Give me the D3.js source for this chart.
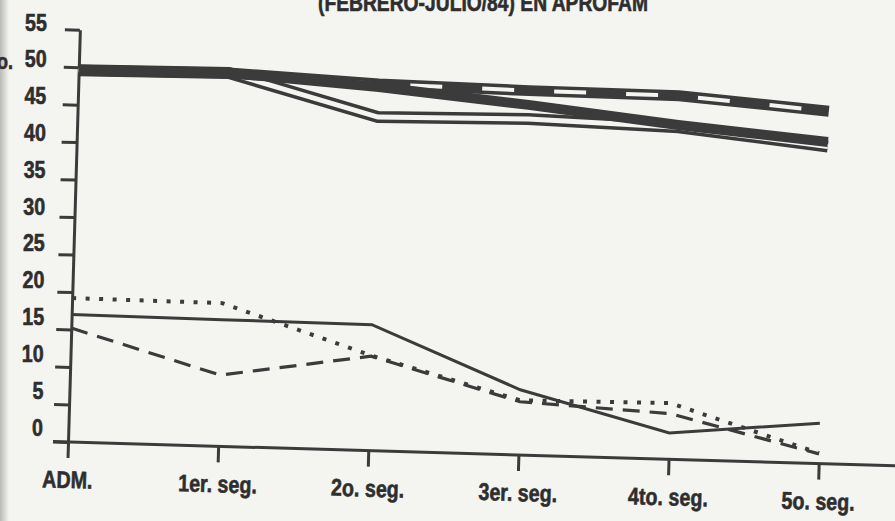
<!DOCTYPE html>
<html lang="es">
<head>
<meta charset="UTF-8">
<title>Seguimiento APROFAM</title>
<style>
  html, body { margin: 0; padding: 0; background: #f4f4f1; }
  svg { display: block; }
  text {
    font-family: "Liberation Sans", Arial, sans-serif;
    font-weight: bold;
    fill: #2e2e2e;
    stroke: #2e2e2e;
    stroke-width: 0.6px;
  }
</style>
</head>
<body>
<div id="chart"></div>
<script src="https://d3js.org/d3.v7.min.js"></script>
<script>
// etiquetas y valores
var categories = ["ADM.", "1er. seg.", "2o. seg.", "3er. seg.", "4to. seg.", "5o. seg."];
var yTicks = [0, 5, 10, 15, 20, 25, 30, 35, 40, 45, 50, 55];

// grupo superior
var serieCinta  = [49.6, 49.8, 48.9, 48.6, 48.5, 47.0];   // gruesa con guiones blancos
var serieGruesa = [49.6, 49.8, 48.5, 46.7, 44.6, 42.9];   // gruesa continua
var serieDoble  = [49.6, 49.8, 44.5, 44.8, 44.3, 42.3];   // linea doble

// grupo inferior
var seriePuntos  = [19.2, 19.1, 12.7, 7.3, 7.5, 1.4];
var serieSolida  = [17.0, 16.9, 16.8, 8.7, 3.5, 5.4];
var serieGuiones = [15.2, 9.5, 12.6, 7.1, 6.1, 1.3];

var width = 895, height = 521;
var ink = "#3b3b3b";
var narrow = 0.82;   // letra condensada

var svg = d3.select("#chart").append("svg")
  .attr("width", width)
  .attr("height", height);

// borde de la pagina escaneada
var grad = svg.append("defs").append("linearGradient").attr("id", "edge");
grad.append("stop").attr("offset", "0%").attr("stop-color", "#b9b9b6");
grad.append("stop").attr("offset", "100%").attr("stop-color", "#f4f4f1");
svg.append("rect").attr("width", 9).attr("height", height).attr("fill", "url(#edge)");

// titulo cortado arriba
svg.append("text")
  .attr("x", 318).attr("y", 11)
  .attr("textLength", 330).attr("lengthAdjust", "spacingAndGlyphs")
  .style("font-size", "24px")
  .text("(FEBRERO-JULIO/84) EN APROFAM");

svg.append("text")
  .attr("transform", "translate(13,69) scale(" + narrow + ",1)")
  .attr("text-anchor", "end")
  .style("font-size", "22px")
  .text("No.");

var x = d3.scalePoint().domain(categories).range([0, 751]);
var y = d3.scaleLinear().domain([0, 55]).range([0, -412.5]);

// la hoja esta un poco girada
var g = svg.append("g").attr("transform", "translate(68,442) rotate(1.65)");

// eje y
g.append("g")
  .call(d3.axisLeft(y).tickValues(yTicks).tickSize(15).tickSizeOuter(0).tickFormat(""))
  .call(s => s.selectAll("path, line").attr("stroke", ink).attr("stroke-width", 3));

// eje x
g.append("line")
  .attr("x1", -15).attr("x2", 860)
  .attr("stroke", ink).attr("stroke-width", 3);

var xAxis = g.append("g")
  .call(d3.axisBottom(x).tickSize(16).tickSizeOuter(0));
xAxis.select(".domain").remove();
xAxis.selectAll("line").attr("stroke", ink).attr("stroke-width", 3);
xAxis.selectAll("text")
  .attr("y", 46).attr("dy", 0)
  .attr("transform", "scale(" + narrow + ",1)")
  .style("font-size", "24px")
  .attr("fill", "#2e2e2e");

// etiquetas del eje y (montadas a mano en el original, sin giro)
var yLab = d3.scaleLinear().domain([0, 55]).range([427, 22]);
svg.append("g").selectAll("text")
  .data(yTicks)
  .enter().append("text")
  .attr("transform", d => "translate(" + (43 + d / 55 * 4) + "," + (yLab(d) + 8.5) + ") scale(" + narrow + ",1)")
  .attr("text-anchor", "end")
  .style("font-size", "24px")
  .text(d => d);

var line = d3.line()
  .x((d, i) => x(categories[i]))
  .y(d => y(d));

function draw(data, w, color, dash) {
  return g.append("path")
    .datum(data)
    .attr("d", line)
    .attr("fill", "none")
    .attr("stroke", color)
    .attr("stroke-width", w)
    .attr("stroke-dasharray", dash || null);
}

// inferiores
draw(seriePuntos, 4, ink, "4,9.5");
draw(serieGuiones, 3.2, ink, "17,10");
draw(serieSolida, 3, ink);

// superiores
draw(serieDoble, 12, ink);
draw(serieDoble, 5, "#f4f4f1");
draw(serieCinta, 11, ink);
draw(serieCinta, 4, "#f4f4f1", "32,40").attr("stroke-dashoffset", 28);
draw(serieGruesa, 10, ink);
</script>
</body>
</html>
